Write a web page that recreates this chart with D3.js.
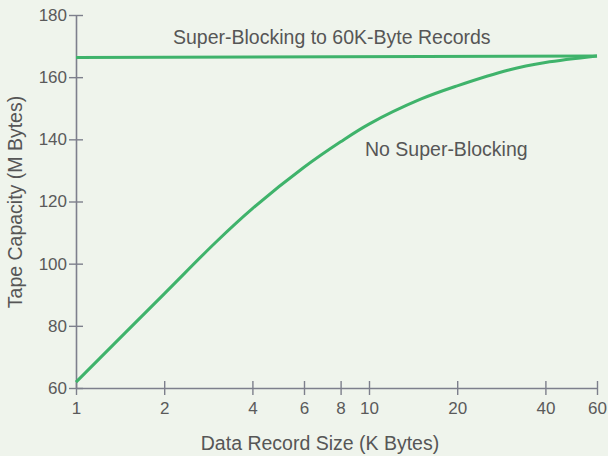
<!DOCTYPE html>
<html>
<head>
<meta charset="utf-8">
<script src="https://cdn.jsdelivr.net/npm/d3@7"></script>
<style>
  body { margin: 0; background: #eff4ec; }
  svg { display: block; }
  text { font-family: "Liberation Sans", Arial, sans-serif; fill: #565656; }
</style>
</head>
<body>
<svg></svg>
<script>
// record sizes in K bytes, capacity in M bytes
var recordSizes = [1, 2, 3, 4, 6, 8, 10, 15, 20, 30, 40, 60];
var noSuperBlocking = [61.9, 90.3, 106.9, 117.7, 131.0, 139.2, 144.9, 152.9, 157.2, 162.3, 164.7, 166.8];
var superSizes = [1, 60];
var superBlocking = [166.3, 166.8];

var xTicks = [1, 2, 4, 6, 8, 10, 20, 40, 60];
var yTicks = [60, 80, 100, 120, 140, 160, 180];

var svgWidth = 608, svgHeight = 456;
var green = "#3fb36b", axisColor = "#7d7f8c";
var fontFam = "'Liberation Sans', Arial, sans-serif";

var svg = d3.select("svg")
    .attr("width", svgWidth)
    .attr("height", svgHeight);

var x = d3.scaleLog().domain([1, 60]).range([76, 597]);
var y = d3.scaleLinear().domain([60, 180]).range([388, 15]);

var xAxis = svg.append("g")
    .attr("transform", "translate(0," + 388 + ")")
    .call(d3.axisBottom(x).tickValues(xTicks).tickFormat(d3.format("d")).tickSizeOuter(0));

var yAxis = svg.append("g")
    .attr("transform", "translate(" + 76 + ",0)")
    .call(d3.axisLeft(y).tickValues(yTicks).tickSizeOuter(0));

// ticks cross the axis line on both sides
xAxis.selectAll(".tick line").attr("y1", -7).attr("y2", 7);
yAxis.selectAll(".tick line").attr("x1", -7).attr("x2", 7);
[xAxis, yAxis].forEach(function(g) {
    g.select(".domain").attr("stroke", axisColor).attr("stroke-width", 1.6);
    g.selectAll(".tick line").attr("stroke", axisColor).attr("stroke-width", 1.4);
    g.selectAll(".tick text")
        .attr("font-size", 17)
        .style("fill", "#5a5a5a")
        .style("font-family", fontFam);
});
xAxis.selectAll(".tick text").attr("y", 14);
yAxis.selectAll(".tick text").attr("x", -9);

var line = d3.line()
    .x(function(d) { return x(d[0]); })
    .y(function(d) { return y(d[1]); })
    .curve(d3.curveCatmullRom.alpha(0.5));

svg.append("path")
    .datum(d3.zip(superSizes, superBlocking))
    .attr("d", line)
    .attr("fill", "none")
    .attr("stroke", green)
    .attr("stroke-width", 3);

svg.append("path")
    .datum(d3.zip(recordSizes, noSuperBlocking))
    .attr("d", line)
    .attr("fill", "none")
    .attr("stroke", green)
    .attr("stroke-width", 3);

svg.append("text")
    .attr("x", 173).attr("y", 44)
    .attr("font-size", 19.5)
    .text("Super-Blocking to 60K-Byte Records");

svg.append("text")
    .attr("x", 365).attr("y", 156)
    .attr("font-size", 19.5)
    .text("No Super-Blocking");

svg.append("text")
    .attr("x", 320).attr("y", 450)
    .attr("text-anchor", "middle")
    .attr("font-size", 19.5)
    .text("Data Record Size (K Bytes)");

svg.append("text")
    .attr("transform", "translate(22,202) rotate(-90)")
    .attr("text-anchor", "middle")
    .attr("font-size", 19.5)
    .text("Tape Capacity (M Bytes)");
</script>
</body>
</html>
